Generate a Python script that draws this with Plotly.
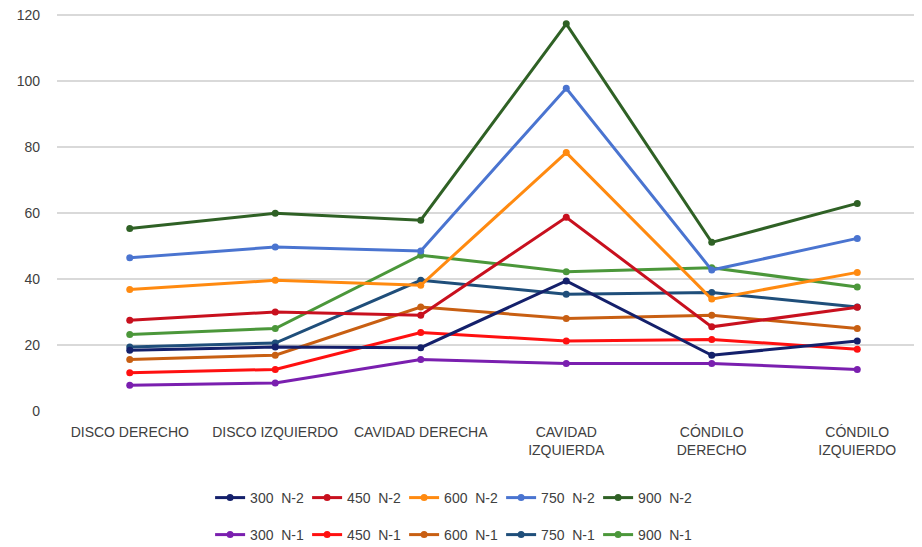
import plotly.graph_objects as go

categories = ["DISCO DERECHO", "DISCO IZQUIERDO", "CAVIDAD DERECHA",
              "CAVIDAD<br>IZQUIERDA", "CÓNDILO<br>DERECHO", "CÓNDILO<br>IZQUIERDO"]

s300_n2 = [18.4, 19.4, 19.2, 39.4, 16.9, 21.2]
s450_n2 = [27.5, 30.0, 29.0, 58.7, 25.5, 31.4]
s600_n2 = [36.8, 39.6, 38.1, 78.3, 33.9, 42.0]
s750_n2 = [46.4, 49.7, 48.5, 97.8, 42.7, 52.3]
s900_n2 = [55.3, 59.9, 57.8, 117.3, 51.1, 62.9]

s300_n1 = [7.8, 8.5, 15.6, 14.4, 14.4, 12.6]
s450_n1 = [11.6, 12.6, 23.8, 21.2, 21.7, 18.7]
s600_n1 = [15.6, 16.9, 31.5, 28.0, 29.0, 25.0]
s750_n1 = [19.4, 20.6, 39.6, 35.4, 35.9, 31.5]
s900_n1 = [23.2, 25.0, 47.2, 42.2, 43.4, 37.6]

y_ticks = [0, 20, 40, 60, 80, 100, 120]

series = [
    ("300  N-2", s300_n2, "#14206B", "legend"),
    ("450  N-2", s450_n2, "#C8101E", "legend"),
    ("600  N-2", s600_n2, "#FF8A10", "legend"),
    ("750  N-2", s750_n2, "#4A74D0", "legend"),
    ("900  N-2", s900_n2, "#2F6125", "legend"),
    ("300  N-1", s300_n1, "#7A1FAF", "legend2"),
    ("450  N-1", s450_n1, "#FF1010", "legend2"),
    ("600  N-1", s600_n1, "#C85F12", "legend2"),
    ("750  N-1", s750_n1, "#1F4E7A", "legend2"),
    ("900  N-1", s900_n1, "#4B973A", "legend2"),
]

fig = go.Figure()
order = [5, 6, 7, 8, 9, 0, 1, 2, 3, 4]
for i in order:
    name, vals, color, lg = series[i]
    fig.add_trace(go.Scatter(
        x=categories, y=vals, name=name, mode="lines+markers",
        line=dict(color=color, width=3),
        marker=dict(color=color, size=7),
        legend=lg,
    ))

# plot area height 403 px; keep legend rows at same absolute positions
ph = 403.0
legend_common = dict(
    orientation="h", xanchor="left", yanchor="middle", x=0.177,
    font=dict(family="Liberation Sans, Arial", size=14, color="#404040"),
    entrywidth=52, entrywidthmode="pixels", itemwidth=30,
    traceorder="normal", bgcolor="rgba(0,0,0,0)", tracegroupgap=0,
)

fig.update_layout(
    width=914, height=539,
    margin=dict(l=49, r=0, t=0, b=136, autoexpand=False),
    paper_bgcolor="white", plot_bgcolor="white",
    font=dict(family="Liberation Sans, Arial", size=14, color="#404040"),
    legend=dict(**legend_common, y=-87.0 / ph),
    legend2=dict(**legend_common, y=-124.0 / ph),
    xaxis=dict(
        type="category", range=[-0.5, 5.445], showgrid=False, showline=False,
        zeroline=False, tickfont=dict(size=14, color="#404040"),
        ticks="outside", ticklen=8, tickcolor="white", automargin=False,
    ),
    yaxis=dict(
        range=[0, 122.1], tickvals=y_ticks, showgrid=True, gridcolor="#D9D9D9",
        gridwidth=1.5, zeroline=False, showline=False, automargin=False,
        tickfont=dict(size=14, color="#404040"), ticklabelstandoff=16,
        ticklabeloverflow="allow",
    ),
)

fig.write_html("out.html")
